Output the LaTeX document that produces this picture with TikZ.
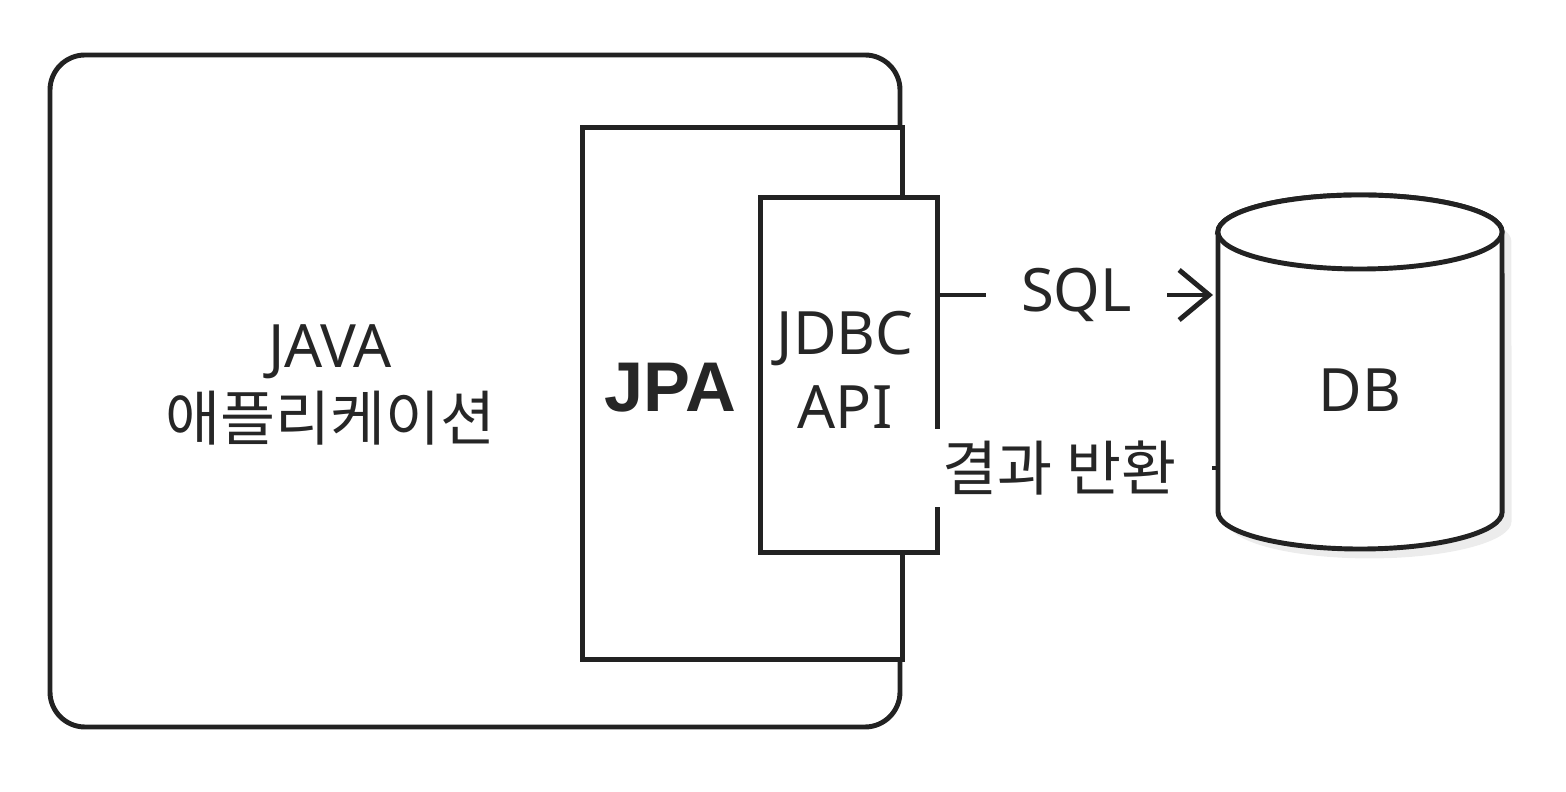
\documentclass[tikz,border=0pt]{standalone}
\usepackage{fontspec}
\setmainfont{Noto Sans}
\newfontfamily\kor{Noto Sans CJK KR}
\newfontfamily\boldsans{Liberation Sans}
\usetikzlibrary{positioning,shapes.geometric,shadows}
\usetikzlibrary{arrows.meta,arrows}
\definecolor{LineColor}{HTML}{222222}
\tikzset{box/.style={draw=LineColor,line width=1.4pt,fill=white},
	lbl/.style={font=\fontsize{17}{21}\selectfont,text=black!85,align=center},
	flow/.style={draw=LineColor,line width=1.4pt,-{Straight Barb[length=3mm,width=5mm]}}}
\begin{document}
\begin{tikzpicture}[x=0.01cm,y=-0.01cm]
				\useasboundingbox (0,0) rectangle (1566,792);
				\draw[box,rounded corners=0.35cm](50,55) rectangle (900,727);
				\node[box,minimum width=3.2cm,minimum height=5.32cm,anchor=north west,inner sep=0](jpa) at (580,125){};
				\node[box,minimum width=1.77cm,minimum height=3.55cm,anchor=north west,inner sep=0](jdbc) at (758,195){};
				\node[lbl](app) at (330,385){JAVA\\{\kor 애플리케이션}};
				\node[lbl,font=\fontsize{20}{24}\selectfont\boldsans\bfseries](jpalbl) at (670,388){JPA};
				\node[lbl](jdbclbl) at (845,370){JDBC\\API};
				% DB cylinder
				\draw[box,drop shadow={opacity=0.15}] (1218,232) -- (1218,512) arc(180:360:1.42cm and 0.37cm) -- (1502,232) arc(0:180:1.42cm and 0.37cm) -- cycle;
				\draw[box] (1360,232) ellipse (1.42cm and 0.37cm);
				\node[lbl](db) at (1360,390){DB};
				\coordinate (sqlA) at (jdbc.east |- 0,295);
				\coordinate (sqlB) at (1213,295);
				\coordinate (resA) at (1218,468);
				\coordinate (resB) at (jdbc.east |- 0,468);

				\draw[flow] (sqlA) -- node[fill=white,lbl,inner xsep=10pt]{SQL} (sqlB);
				\draw[flow] (resA) -- node[fill=white,lbl,inner xsep=10pt,xshift=-8pt]{\kor 결과 반환} ([xshift=5pt]resB);

			\end{tikzpicture}
\end{document}
